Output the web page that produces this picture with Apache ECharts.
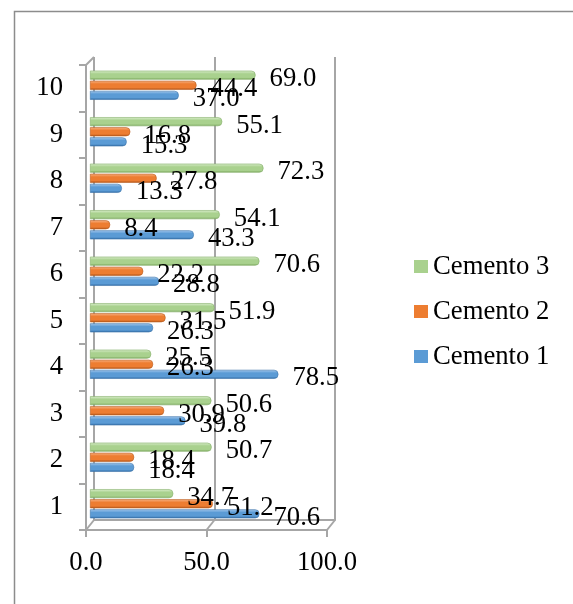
<!DOCTYPE html>
<html>
<head>
<meta charset="utf-8">
<script src="https://cdn.jsdelivr.net/npm/echarts@6/dist/echarts.min.js"></script>
<style>
  html, body { margin: 0; padding: 0; background: #fff; }
  #chart { width: 573px; height: 604px; }
</style>
</head>
<body>
<div id="chart"></div>
<script>
// Categories (samples 1..10) and the three cement series
const categories = ['1', '2', '3', '4', '5', '6', '7', '8', '9', '10'];
const cemento1 = [70.6, 18.4, 39.8, 78.5, 26.3, 28.8, 43.3, 13.3, 15.3, 37.0];
const cemento2 = [51.2, 18.4, 30.9, 26.3, 31.5, 22.2, 8.4, 27.8, 16.8, 44.4];
const cemento3 = [34.7, 50.7, 50.6, 25.5, 51.9, 70.6, 54.1, 72.3, 55.1, 69.0];
const valueTicks = [0, 50, 100];

const FONT = "'Liberation Serif', 'Times New Roman', serif";
const FONT_SIZE = 26.7;
const FRAME = '#a6a6a6';

// Three planes of the pseudo-3D box: front (axes), middle (bars), back (wall grid)
const FRONT = { left: 86, top: 65, width: 241, height: 465 };
const MID = { left: 90, top: 62, width: 240, height: 465 };
const BACK = { left: 94, top: 57, width: 241, height: 463 };

function cylinder(top, mid, bottom) {
  return new echarts.graphic.LinearGradient(0, 0, 0, 1, [
    { offset: 0, color: top },
    { offset: 0.35, color: mid },
    { offset: 0.75, color: mid },
    { offset: 1, color: bottom }
  ]);
}

// Listed top-to-bottom within each category group
const seriesDefs = [
  { name: 'Cemento 3', data: cemento3, flat: '#a9d18e', grad: ['#dcefcf', '#a9d18e', '#7aa85d'], edge: '#85ae6a' },
  { name: 'Cemento 2', data: cemento2, flat: '#ed7d31', grad: ['#f8b68a', '#ed7d31', '#b4561a'], edge: '#b95c1f' },
  { name: 'Cemento 1', data: cemento1, flat: '#5b9bd5', grad: ['#a9cbee', '#5b9bd5', '#2f6aa3'], edge: '#3d73aa' }
];

const chart = echarts.init(document.getElementById('chart'), null, { renderer: 'canvas' });

const axisMax = valueTicks[valueTicks.length - 1];
const axisStep = valueTicks[1] - valueTicks[0];

const option = {
  animation: false,
  backgroundColor: '#ffffff',
  textStyle: { fontFamily: FONT },
  color: seriesDefs.map(s => s.flat),
  legend: {
    orient: 'vertical',
    left: 414,
    top: 253,
    padding: 0,
    itemWidth: 14,
    itemHeight: 13,
    itemGap: 18,
    icon: 'rect',
    data: seriesDefs.map(s => ({
      name: s.name,
      itemStyle: { color: s.flat, borderWidth: 0 }
    })),
    textStyle: { fontFamily: FONT, fontSize: FONT_SIZE, color: '#000', lineHeight: 27 }
  },
  grid: [
    Object.assign({ containLabel: false }, FRONT),
    Object.assign({ containLabel: false }, MID),
    Object.assign({ containLabel: false }, BACK)
  ],
  xAxis: [
    {
      gridIndex: 0, type: 'value', min: 0, max: axisMax, interval: axisStep,
      axisLine: { show: true, lineStyle: { color: FRAME, width: 2 } },
      axisTick: { show: true, length: 7, lineStyle: { color: FRAME, width: 2 } },
      splitLine: { show: false },
      axisLabel: {
        margin: 19, color: '#000', fontFamily: FONT, fontSize: FONT_SIZE,
        formatter: v => v.toFixed(1)
      }
    },
    {
      gridIndex: 1, type: 'value', min: 0, max: axisMax, interval: axisStep, show: false
    },
    {
      gridIndex: 2, type: 'value', min: 0, max: axisMax, interval: axisStep,
      axisLine: { show: true, lineStyle: { color: FRAME, width: 2 } },
      axisTick: { show: false },
      axisLabel: { show: false },
      splitLine: { show: true, lineStyle: { color: FRAME, width: 2 } }
    }
  ],
  yAxis: [
    {
      gridIndex: 0, type: 'category', data: categories,
      axisLine: { show: true, lineStyle: { color: FRAME, width: 2 } },
      axisTick: { show: true, length: 7, lineStyle: { color: FRAME, width: 2 } },
      axisLabel: { margin: 23, color: '#000', fontFamily: FONT, fontSize: FONT_SIZE }
    },
    {
      gridIndex: 1, type: 'category', data: categories, show: false
    },
    {
      gridIndex: 2, type: 'category', data: categories, show: false
    }
  ],
  series: seriesDefs.map(s => ({
    name: s.name,
    type: 'bar',
    xAxisIndex: 1,
    yAxisIndex: 1,
    data: s.data,
    barWidth: 9,
    barGap: '12%',
    itemStyle: {
      color: cylinder(s.grad[0], s.grad[1], s.grad[2]),
      borderColor: s.edge,
      borderWidth: 0.6,
      borderRadius: [0, 4, 4, 0]
    },
    label: {
      show: true,
      position: 'right',
      distance: 14,
      offset: [0, 4],
      color: '#000',
      fontFamily: FONT,
      fontSize: FONT_SIZE,
      formatter: p => p.value.toFixed(1)
    }
  }))
};

chart.setOption(option);

// Depth edges joining the front plane to the back wall, plus the outer border
function depthEdge(fx, fy, bx, by) {
  return {
    type: 'line', silent: true,
    shape: { x1: fx, y1: fy, x2: bx, y2: by },
    style: { stroke: FRAME, lineWidth: 2 }
  };
}
const frontBottom = FRONT.top + FRONT.height;
const backBottom = BACK.top + BACK.height;
const edges = [depthEdge(FRONT.left, FRONT.top, BACK.left, BACK.top)];
valueTicks.forEach(v => {
  const fx = chart.convertToPixel({ xAxisIndex: 0 }, v);
  const bx = chart.convertToPixel({ xAxisIndex: 2 }, v);
  edges.push(depthEdge(fx, frontBottom, bx, backBottom));
});

chart.setOption({
  graphic: [
    {
      type: 'rect', silent: true, z: -1,
      shape: { x: 14.5, y: 11.5, width: 700, height: 700 },
      style: { fill: 'none', stroke: '#8c8c8c', lineWidth: 1.5 }
    }
  ].concat(edges)
});
</script>
</body>
</html>
